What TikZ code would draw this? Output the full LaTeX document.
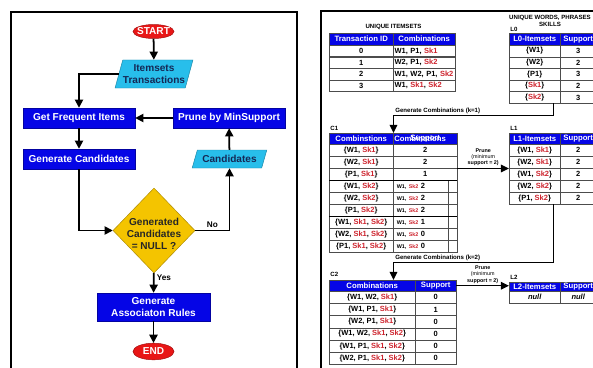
\documentclass[tikz,border=0pt]{standalone}
\usepackage{fontspec}
\setmainfont{Liberation Sans}
\usetikzlibrary{arrows.meta}
\usetikzlibrary{shapes.geometric}

\definecolor{procblue}{RGB}{5,5,230}
\definecolor{iocyan}{RGB}{40,190,235}
\definecolor{decgold}{RGB}{244,196,0}
\definecolor{termred}{RGB}{232,22,22}
\definecolor{iotext}{RGB}{20,40,85}
\definecolor{skred}{RGB}{205,35,45}

\newcommand\flowfont{\fontsize{8.6}{10.2}\selectfont\bfseries}
\newcommand\headfont{\fontsize{6.6}{7.5}\selectfont\bfseries}
\newcommand\cellfont{\fontsize{6.4}{7.5}\selectfont\bfseries}
\newcommand\tagfont{\fontsize{5.2}{6}\selectfont\bfseries}
\newcommand\minifont{\fontsize{4.6}{5.5}\selectfont\bfseries}
\newcommand\sk[1]{\textcolor{skred}{#1}}

\tikzset{
  proc node/.style={
    rectangle,
    fill=procblue,
    draw=procblue!70!black,
    text=white,
    font=\flowfont,
    inner xsep=1pt,
    align=center,
  }
}
\tikzset{
  io node/.style={
    trapezium,
    trapezium stretches=true,
    trapezium left angle=74,
    trapezium right angle=106,
    fill=iocyan,
    draw=iocyan!70!black,
    text=iotext,
    font=\flowfont,
    inner xsep=0pt,
    align=center,
  }
}
\tikzset{
  term node/.style={ellipse, fill=termred, draw=termred!70!black,
    minimum width=1.23cm, minimum height=0.42cm, inner sep=0pt},
  term text/.style={text=white, font=\flowfont},
  test node/.style={diamond, fill=decgold, draw=decgold!70!black,
    minimum width=2.46cm, minimum height=2.55cm, inner sep=0pt},
  test text/.style={text=black!85, font=\flowfont, align=center},
  answer/.style={font=\fontsize{7}{8}\selectfont\bfseries, inner sep=2pt},
  flow/.style={draw, line width=1.5pt, -{Triangle[length=7pt,width=7pt]}},
  link/.style={draw, line width=1.2pt, -{Triangle[length=7pt,width=6.5pt]}},
}
\tikzset{
  cell/.style={
    rectangle,
    draw=black!70,
    line width=0.4pt,
    anchor=north west,
    font=\cellfont,
    inner xsep=1pt,
    inner ysep=0pt,
    minimum height=0.36cm,
  },
  left cell/.style={cell, align=left, text width=#1, inner xsep=0pt},
  headcell/.style={cell, fill=procblue, text=white, font=\headfont},
  tag/.style={font=\tagfont, inner sep=1pt},
  prune note/.style={font=\minifont, align=center, inner sep=1.5pt},
}

\begin{document}
\begin{tikzpicture}[x=0.03cm, y=-0.03cm]
    \useasboundingbox (0,0) rectangle (593,367);
    \clip (0,0) rectangle (593,367);

    % flow chart
    \draw[line width=1.2pt] (11,12) rectangle (297,380);

    \node[term node, label={[term text]center:START}] (start) at (153.5,31.5) {};
    \node[io node, minimum width=2.34cm, minimum height=0.84cm]
      (items) at (154,74) {Itemsets\\Transactions};
    \node[proc node, minimum width=3.36cm, minimum height=0.6cm]
      (freq) at (79,118) {Get Frequent Items};
    \node[proc node, minimum width=3.36cm, minimum height=0.6cm]
      (prune) at (229,118) {Prune by MinSupport};
    \node[proc node, minimum width=3.36cm, minimum height=0.6cm]
      (gen) at (79,159) {Generate Candidates};
    \node[io node, minimum width=2.25cm, minimum height=0.54cm]
      (cands) at (229.5,159) {Candidates};
    \node[test node, label={[test text, yshift=-3pt]center:Generated\\Candidates\\= NULL ?}]
      (test) at (154,230.5) {};
    \node[proc node, minimum width=3.39cm, minimum height=0.84cm]
      (rules) at (153.5,307) {Generate\\Associaton Rules};
    \node[term node, minimum height=0.5cm, label={[term text]center:END}]
      (stop) at (153.5,351.5) {};

    \draw[flow] (start) -- (items);
    \draw[flow] (items.west) -| (freq);
    \draw[flow] (prune) -- (freq);
    \draw[flow] (freq) -- (gen);
    \draw[flow] (gen) |- (test);
    \draw[flow] (test) -| node[answer, pos=0.25, above] {No} (cands);
    \draw[flow] (cands) -- (prune);
    \draw[flow] (test) -- node[answer, pos=0.25, right] {Yes} (rules);
    \draw[flow] (rules) -- (stop);

    % apriori tables
    \draw[line width=1pt] (321,11) rectangle (620,380);

    \node[headcell, minimum width=1.92cm] (t-h-a) at (329,33) {Transaction ID};
    \node[headcell, minimum width=1.86cm] (t-h-b) at (393,33) {Combinations};
    \foreach \id/\comb [count=\r] in {0/{W1, P1, \sk{Sk1}}, 1/{W2, P1, \sk{Sk2}},
        2/{W1, W2, P1, \sk{Sk2}}, 3/{W1, \sk{Sk1}, \sk{Sk2}}}{
      \node[cell, minimum width=1.92cm, minimum height=0.345cm]
        (t-\r-a) at (329,{45+11.5*(\r-1)}) {\id};
      \node[left cell=1.86cm, minimum height=0.345cm]
        (t-\r-b) at (393,{45+11.5*(\r-1)}) {\hspace*{1.2pt}\comb};
    }
    \node[tag, anchor=south] (uitems) at ([yshift=2pt]t-h-a.north east) {UNIQUE ITEMSETS};

    \node[headcell, minimum width=1.53cm] (l0-h-a) at (509,33) {L0-Itemsets};
    \node[headcell, minimum width=1.08cm] (l0-h-b) at (560,33) {Support};
    \foreach \item/\val [count=\r] in {{\{W1\}}/3, {\{W2\}}/2, {\{P1\}}/3,
        {\{\sk{Sk1}\}}/2, {\{\sk{Sk2}\}}/3}{
      \node[cell, minimum width=1.53cm, minimum height=0.348cm]
        (l0-\r-a) at (509,{45+11.6*(\r-1)}) {\item};
      \node[cell, minimum width=1.08cm, minimum height=0.348cm]
        (l0-\r-b) at (560,{45+11.6*(\r-1)}) {\val};
    }
    \node[tag, align=center] (uwords) at (550,21) {UNIQUE WORDS, PHRASES\\SKILLS};
    \node[tag, anchor=south west] (l0-tag) at (l0-h-a.north west) {L0};

    % C1
    \node[headcell, minimum width=1.92cm, minimum height=0.33cm]
      (c1-h-a) at (329,133) {Combinstions};
    \node[headcell, align=left, text width=1.85cm, minimum height=0.33cm]
      (c1-h-b) at (393,133) {Combinations};
    \node[font=\headfont, text=white, inner sep=0pt] (c1-h-s) at (c1-h-b) {Support};
    \foreach \comb/\val [count=\r] in {{\{W1, \sk{Sk1}\}}/2, {\{W2, \sk{Sk1}\}}/2,
        {\{P1, \sk{Sk1}\}}/1}{
      \node[cell, minimum width=1.92cm] (c1-\r-a) at (329,{144+12*(\r-1)}) {\comb};
      \node[cell, minimum width=1.92cm] (c1-\r-b) at (393,{144+12*(\r-1)}) {\val};
    }
    \foreach \comb/\val [count=\r from 4] in {{\{W1, \sk{Sk2}\}}/2, {\{W2, \sk{Sk2}\}}/2,
        {\{P1, \sk{Sk2}\}}/2, {\{W1, \sk{Sk1}, \sk{Sk2}\}}/1,
        {\{W2, \sk{Sk1}, \sk{Sk2}\}}/0, {\{P1, \sk{Sk1}, \sk{Sk2}\}}/0}{
      \node[cell, minimum width=1.92cm] (c1-\r-a) at (329,{144+12*(\r-1)}) {\comb};
      \node[left cell=1.65cm] (c1-\r-b) at (393,{144+12*(\r-1)})
        {\hspace*{3pt}{\minifont W1, \sk{Sk2}}\hspace{2pt}\val};
      \node[cell, minimum width=0.27cm] (c1-\r-c) at (448,{144+12*(\r-1)}) {};
    }
    \draw[line width=0.9pt] (c1-3-a.south west) -- (c1-3-b.south east);
    \draw[line width=0.9pt] (c1-6-a.south west) -- (c1-6-c.south east);
    \node[tag, anchor=south west] (c1-tag) at ([yshift=1pt]c1-h-a.north west) {C1};

    % L1
    \node[headcell, minimum width=1.53cm, minimum height=0.33cm]
      (l1-h-a) at (509,133) {L1-Itemsets};
    \node[headcell, minimum width=1.08cm, minimum height=0.33cm]
      (l1-h-b) at (560,133) {Support};
    \foreach \item [count=\r] in {{\{W1, \sk{Sk1}\}}, {\{W2, \sk{Sk1}\}},
        {\{W1, \sk{Sk2}\}}, {\{W2, \sk{Sk2}\}}, {\{P1, \sk{Sk2}\}}}{
      \node[cell, minimum width=1.53cm] (l1-\r-a) at (509,{144+12*(\r-1)}) {\item};
      \node[cell, minimum width=1.08cm] (l1-\r-b) at (560,{144+12*(\r-1)}) {2};
    }
    \node[tag, anchor=south west] (l1-tag) at ([yshift=1pt]l1-h-a.north west) {L1};

    % C2
    \node[headcell, minimum width=2.58cm, minimum height=0.33cm]
      (c2-h-a) at (329,280) {Combinations};
    \node[headcell, minimum width=1.23cm, minimum height=0.33cm]
      (c2-h-b) at (415,280) {Support};
    \foreach \comb/\val [count=\r] in {{\{W1, W2, \sk{Sk1}\}}/0, {\{W1, P1, \sk{Sk1}\}}/1,
        {\{W2, P1, \sk{Sk1}\}}/0, {\{W1, W2, \sk{Sk1}, \sk{Sk2}\}}/0,
        {\{W1, P1, \sk{Sk1}, \sk{Sk2}\}}/0, {\{W2, P1, \sk{Sk1}, \sk{Sk2}\}}/0}{
      \node[cell, minimum width=2.58cm, minimum height=0.366cm]
        (c2-\r-a) at (329,{291+12.2*(\r-1)}) {\comb};
      \node[cell, minimum width=1.23cm, minimum height=0.366cm]
        (c2-\r-b) at (415,{291+12.2*(\r-1)}) {\val};
    }
    \node[tag, anchor=south west] (c2-tag) at ([yshift=2pt]c2-h-a.north west) {C2};

    % L2
    \node[headcell, minimum width=1.53cm, minimum height=0.28cm]
      (l2-h-a) at (509,282) {L2-Itemsets};
    \node[headcell, minimum width=1.08cm, minimum height=0.28cm]
      (l2-h-b) at (560,282) {Support};
    \node[cell, minimum width=1.53cm] (l2-1-a) at (509,291) {\itshape null};
    \node[cell, minimum width=1.08cm] (l2-1-b) at (560,291) {\itshape null};
    \node[tag, anchor=south west] (l2-tag) at ([yshift=1pt]l2-h-a.north west) {L2};

    \draw[link] ([xshift=-0.21cm]l0-5-a.south east) -- ++(0,12)
      -| node[tag, pos=0.5, anchor=south west] {Generate Combinations (k=1)}
      (c1-h-a.north east);
    \draw[link] (c1-2-b.south east) --
      node[prune note, above] {Prune\\\mdseries(minimum\\support = 2)}
      (l1-2-a.south west);
    \draw[link] ([xshift=-0.21cm]l1-5-a.south east) -- ++(0,58)
      -| node[tag, pos=0.5, anchor=south west] {Generate Combinations (k=2)}
      (c1-h-a.north east |- c2-h-a.north);
    \draw[link] (c2-h-b.east) --
      node[prune note, above] {Prune\\\mdseries(minimum\\support = 2)}
      (c2-h-b.east -| l2-h-a.west);

\end{tikzpicture}
\end{document}
